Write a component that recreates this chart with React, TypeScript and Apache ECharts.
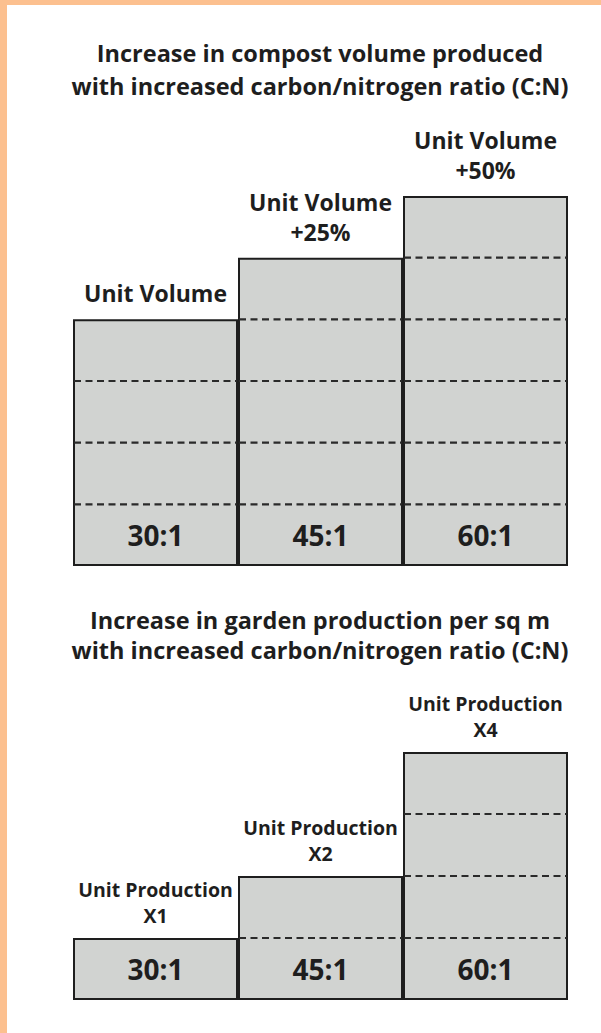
import React, { useEffect, useRef } from "react";
import * as echarts from "echarts";

const categories = ["30:1", "45:1", "60:1"];
const volumeUnits = [4, 5, 6];
const volumeLabels = ["Unit Volume", "Unit Volume\n+25%", "Unit Volume\n+50%"];
const productionUnits = [1, 2, 4];
const productionLabels = ["Unit Production\nX1", "Unit Production\nX2", "Unit Production\nX4"];
const titles = [
  "Increase in compost volume produced\nwith increased carbon/nitrogen ratio (C:N)",
  "Increase in garden production per sq m\nwith increased carbon/nitrogen ratio (C:N)",
];

const FONT = "'Open Sans', 'Noto Sans', sans-serif";
const FILL = "#d1d3d1";
const INK = "#1e1e1e";

function buildSeries(gridIndex: number, units: number[], labels: string[], labelSize: number, labelLH: number, labelDist: number) {
  const dividers: number[][] = [];
  units.forEach((v, i) => {
    for (let k = 1; k < v; k++) dividers.push([i, k]);
  });
  return [
    {
      type: "bar",
      xAxisIndex: gridIndex,
      yAxisIndex: gridIndex,
      barGap: "-100%",
      barCategoryGap: "0%",
      data: units,
      itemStyle: { color: FILL, borderColor: INK, borderWidth: 2 },
      label: {
        show: true,
        position: "top",
        distance: labelDist,
        formatter: (p: any) => labels[p.dataIndex],
        fontFamily: FONT,
        fontWeight: "bold",
        fontSize: labelSize,
        lineHeight: labelLH,
        color: INK,
        align: "center",
      },
      silent: true,
      z: 2,
    },
    {
      type: "custom",
      xAxisIndex: gridIndex,
      yAxisIndex: gridIndex,
      data: dividers,
      silent: true,
      z: 3,
      renderItem: (_params: any, api: any) => {
        const c = api.coord([api.value(0), api.value(1)]);
        const w = api.size([1, 0])[0];
        return {
          type: "line",
          shape: { x1: c[0] - w / 2 + 1, y1: c[1], x2: c[0] + w / 2 - 1, y2: c[1] },
          style: { stroke: "#2a2a2a", lineWidth: 2.2, lineDash: [7, 4.5] },
        };
      },
    },
    {
      type: "custom",
      xAxisIndex: gridIndex,
      yAxisIndex: gridIndex,
      data: categories.map((_c, i) => [i, 0.5]),
      silent: true,
      z: 4,
      renderItem: (params: any, api: any) => {
        const c = api.coord([api.value(0), api.value(1)]);
        return {
          type: "text",
          x: c[0],
          y: c[1],
          style: {
            text: categories[params.dataIndex],
            fontFamily: FONT,
            fontWeight: "bold",
            fontSize: 28,
            fill: INK,
            textAlign: "center",
            textVerticalAlign: "middle",
          },
        };
      },
    },
  ];
}

export default function App() {
  const ref = useRef<HTMLDivElement>(null);
  useEffect(() => {
    document.body.style.margin = "0";
    const chart = echarts.init(ref.current!, null, { renderer: "svg" });
    const option: any = {
      animation: false,
      backgroundColor: "#ffffff",
      grid: [
        { left: 73, width: 495, top: 196, height: 370 },
        { left: 73, width: 495, top: 752, height: 248 },
      ],
      xAxis: [0, 1].map((i) => ({
        type: "category",
        gridIndex: i,
        data: categories,
        show: false,
      })),
      yAxis: [
        { type: "value", gridIndex: 0, min: 0, max: Math.max(...volumeUnits), show: false },
        { type: "value", gridIndex: 1, min: 0, max: Math.max(...productionUnits), show: false },
      ],
      graphic: [
        { type: "rect", shape: { x: 0, y: 0, width: 7, height: 1033 }, style: { fill: "#fcc08f" } },
        { type: "rect", shape: { x: 0, y: 0, width: 601, height: 5 }, style: { fill: "#fcc08f" } },
        {
          type: "text",
          x: 320,
          y: 36,
          style: {
            text: titles[0],
            fontFamily: FONT,
            fontWeight: "bold",
            fontSize: 23.5,
            lineHeight: 33,
            fill: INK,
            textAlign: "center",
          },
        },
        {
          type: "text",
          x: 320,
          y: 605,
          style: {
            text: titles[1],
            fontFamily: FONT,
            fontWeight: "bold",
            fontSize: 23.5,
            lineHeight: 30,
            fill: INK,
            textAlign: "center",
          },
        },
      ],
      series: [
        ...buildSeries(0, volumeUnits, volumeLabels, 23, 30, 11),
        ...buildSeries(1, productionUnits, productionLabels, 19.5, 26, 10),
      ],
    };
    chart.setOption(option);
    return () => chart.dispose();
  }, []);
  return <div ref={ref} style={{ width: 601, height: 1033 }} />;
}
